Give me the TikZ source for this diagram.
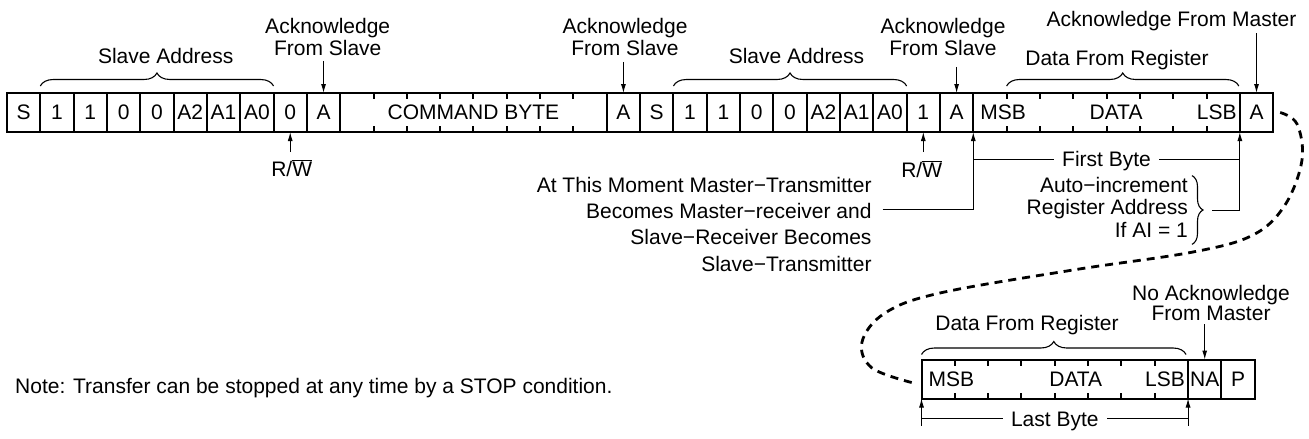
\documentclass[tikz,border=0pt]{standalone}
\usepackage{fontspec}
\setmainfont{Liberation Sans}
\usetikzlibrary{arrows.meta,decorations.pathreplacing,calc}
\begin{document}
\begin{tikzpicture}[x=1pt,y=-1pt,
  font=\fontsize{21}{24}\selectfont,
  cell/.style={draw,line width=2pt,minimum width=33.32pt,minimum height=39pt,inner sep=0pt,outer sep=0pt},
  tickmark/.style={line width=2pt},
  brc/.style={decorate,decoration={brace,amplitude=13pt},line width=1.1pt},
  arr/.style={line width=1pt,-{Latex[length=9pt,width=5pt]}},
  conn/.style={line width=1pt},
  lbl/.style={inner sep=0pt},
  dashcurve/.style={line width=2.8pt,dash pattern=on 8pt off 6pt}]
\useasboundingbox (0,0) rectangle (1309,439);

% top row
\foreach \i/\t in {0/S,1/1,2/1,3/0,4/0,5/A2,6/A1,7/A0,8/0,9/A,18/A,19/S,20/1,21/1,22/0,23/0,24/A2,25/A1,26/A0,27/1,28/A,37/A}
  \node[cell] (c\i) at ({7+(\i+0.5)*33.32},112.5) {\t};
\node[cell,minimum width=266.56pt] (cmd) at ({7+14*33.32},112.5) {COMMAND BYTE};
\node[cell,minimum width=266.56pt] (data) at ({7+33*33.32},112.5) {};
\node[lbl,anchor=west] (msb1) at ($(data.west)+(7,0)$) {MSB};
\node[lbl] (dat1) at ($(data.center)+(9.5,0)$) {DATA};
\node[lbl,anchor=east] (lsb1) at ($(data.east)+(-3,0)$) {LSB};
\foreach \k in {1,...,7} {
  \draw[tickmark] ($(cmd.north west)+(\k*33.32,0)$) -- ++(0,6);
  \draw[tickmark] ($(cmd.south west)+(\k*33.32,0)$) -- ++(0,-6);
  \draw[tickmark] ($(data.north west)+(\k*33.32,0)$) -- ++(0,6);
  \draw[tickmark] ($(data.south west)+(\k*33.32,0)$) -- ++(0,-6);
}

% bottom row
\node[cell,minimum width=266.56pt] (bdata) at ({921.5+4*33.32},379) {};
\node[cell] (na) at ({921.5+8.5*33.32},379) {NA};
\node[cell] (p) at ({921.5+9.5*33.32},379) {P};
\node[lbl,anchor=west] (msb2) at ($(bdata.west)+(7,0)$) {MSB};
\node[lbl] (dat2) at ($(bdata.center)+(21,0)$) {DATA};
\node[lbl,anchor=east] (lsb2) at ($(bdata.east)+(-3,0)$) {LSB};
\foreach \k in {1,...,7} {
  \draw[tickmark] ($(bdata.north west)+(\k*33.32,0)$) -- ++(0,6);
  \draw[tickmark] ($(bdata.south west)+(\k*33.32,0)$) -- ++(0,-6);
}

% braces
\draw[brc] ($(c1.north west)+(0,-7)$) -- ($(c7.north east)+(0,-7)$);
\draw[brc] ($(c20.north west)+(0,-7)$) -- ($(c26.north east)+(0,-7)$);
\draw[brc] ($(data.north west)+(33.32,-7)$) -- ($(data.north east)+(-1,-7)$);
\draw[brc] ($(bdata.north west)+(0,-5)$) -- ($(bdata.north east)+(-2,-5)$);

% labels above
\node[lbl,anchor=base] (sa1) at (165.7,63.3) {Slave Address};
\node[lbl,anchor=base] (sa2) at (796.5,63.3) {Slave Address};
\node[lbl,anchor=base] (dfr1) at (1117,65) {Data From Register};
\node[lbl,anchor=base] (dfr2) at (1027,330) {Data From Register};
\node[lbl,anchor=base] (afm) at (1171.5,26.7) {Acknowledge From Master};
\node[lbl,align=center,anchor=north,font=\fontsize{21}{21.7}\selectfont] (ack1) at (327.7,18.3) {Acknowledge\\From Slave};
\node[lbl,align=center,anchor=north,font=\fontsize{21}{21.7}\selectfont] (ack2) at (625,18.3) {Acknowledge\\From Slave};
\node[lbl,align=center,anchor=north,font=\fontsize{21}{21.7}\selectfont] (ack3) at (943,18.3) {Acknowledge\\From Slave};
\node[lbl,align=center,anchor=north,font=\fontsize{21}{20.5}\selectfont] (nam) at (1211,285) {No Acknowledge\\From Master};

\draw[arr] ($(ack1.south -| c9.north)+(0,5)$) -- (c9.north);
\draw[arr] ($(ack2.south -| c18.north)+(0,6)$) -- (c18.north);
\draw[arr] ($(ack3.south -| c28.north)+(0,11)$) -- (c28.north);
\draw[arr] ($(afm.south -| c37.north)+(0,2)$) -- (c37.north);
\draw[arr] ($(nam.south -| na.north)+(0,3)$) -- (na.north);

% R/W
\node[lbl,anchor=base] (rw1) at (291.7,176) {R/$\overline{\hbox{W}}$};
\node[lbl,anchor=base] (rw2) at (921.7,177) {R/$\overline{\hbox{W}}$};
\draw[arr] ($(c8.south)+(0,20)$) -- (c8.south);
\draw[arr] ($(c27.south)+(0,20)$) -- (c27.south);

% moment text
\node[lbl,align=right,anchor=east,font=\fontsize{21}{26.3}\selectfont] (mom) at (871.7,224.2)
  {At This Moment Master−Transmitter\\Becomes Master−receiver and\\Slave−Receiver Becomes\\Slave−Transmitter};
\coordinate (momend) at ($(mom.east)+(11,-15)$);
\draw[arr] (momend) -| (data.south west);

% auto-increment
\node[lbl,align=right,anchor=east,font=\fontsize{21}{22.6}\selectfont] (ai) at (1188,207)
  {Auto−increment\\Register Address\\If AI = 1};
\draw[brc,decoration={brace,amplitude=11pt}] ($(ai.north east)+(4,-1)$) -- ($(ai.south east)+(4,7)$);
\coordinate (aitip) at ($(ai.east)+(24,3)$);
\draw[arr] (aitip) -| (data.south east);

% first byte
\draw[conn] ($(data.south west)+(0,27)$) -- ($(data.south east)+(0,27)$)
  node[midway,fill=white,inner xsep=8pt,inner ysep=0pt,yshift=-2.4pt] (fb) {First Byte};

% last byte
\draw[arr] ($(bdata.south west)+(0,27)$) -- (bdata.south west);
\draw[arr] ($(bdata.south east)+(0,27)$) -- (bdata.south east);
\draw[conn] ($(bdata.south west)+(0,20)$) -- ($(bdata.south east)+(0,20)$)
  node[midway,fill=white,inner xsep=8pt,inner ysep=0pt,yshift=-2.5pt] (lb) {Last Byte};

% dashed continuation
\coordinate (dstart) at ($(c37.east)+(7,0)$);
\coordinate (dend) at ($(bdata.west)+(-8,4)$);
\draw[dashcurve] plot[smooth,tension=0.6] coordinates {(dstart) (1297,124) (1302,160) (1285,205) (1253,235) (1193,252) (1073,270) (940,293) (885,313) (862,342) (872,368) (dend)};

% note
\node[lbl,anchor=base west] (note) at (15,393.3) {Note: Transfer can be stopped at any time by a STOP condition.};
\end{tikzpicture}
\end{document}
